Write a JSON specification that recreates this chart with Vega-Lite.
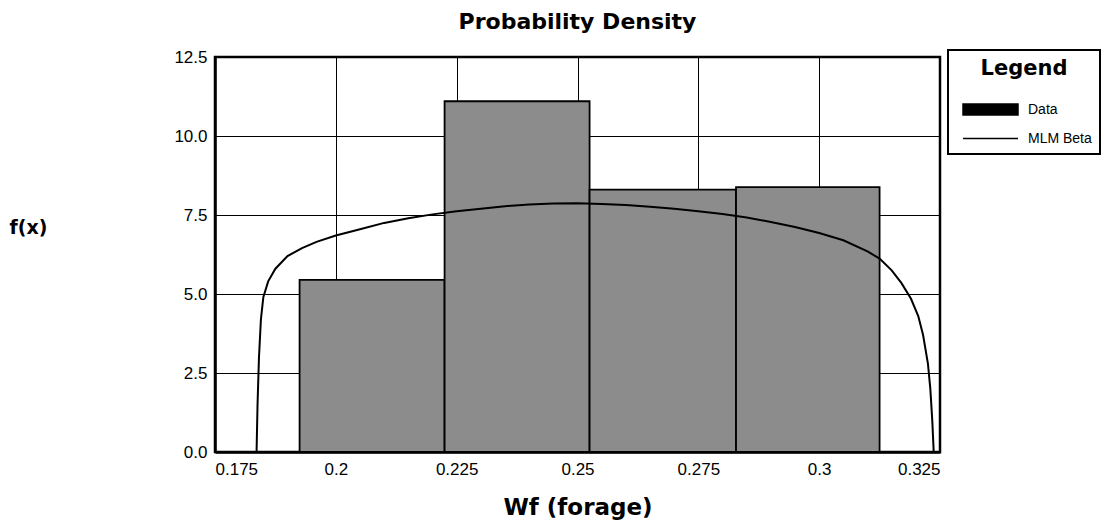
{
  "$schema": "https://vega.github.io/schema/vega-lite/v6.json",
  "autosize": {"type": "none"},
  "padding": {"left": 215, "top": 57, "right": 180, "bottom": 71},
  "width": 725,
  "height": 395,
  "background": "white",
  "config": {
    "font": "Liberation Sans",
    "view": {"stroke": "black", "strokeWidth": 2.5},
    "axis": {
      "grid": true,
      "gridColor": "black",
      "gridWidth": 1,
      "gridOpacity": 1,
      "domainColor": "black",
      "domainWidth": 2.5,
      "ticks": false,
      "labelFont": "Liberation Sans",
      "labelFontSize": 17,
      "labelColor": "black",
      "titleFont": "DejaVu Sans",
      "titleColor": "black",
      "titleFontWeight": "bold"
    }
  },
  "title": {
    "text": "Probability Density",
    "font": "DejaVu Sans",
    "fontSize": 22,
    "fontWeight": "bold",
    "color": "black",
    "anchor": "middle",
    "offset": 14
  },
  "datasets": {
    "bins": [
      {"lo": 0.1925, "hi": 0.2225, "density": 5.45},
      {"lo": 0.2225, "hi": 0.2525, "density": 11.1},
      {"lo": 0.2525, "hi": 0.2828, "density": 8.3},
      {"lo": 0.2828, "hi": 0.3125, "density": 8.38}
    ],
    "beta": [
      {"x": 0.1836, "fx": 0, "series": "MLM Beta"},
      {"x": 0.1838, "fx": 1.5, "series": "MLM Beta"},
      {"x": 0.1841, "fx": 3.0, "series": "MLM Beta"},
      {"x": 0.1845, "fx": 4.2, "series": "MLM Beta"},
      {"x": 0.185, "fx": 4.9, "series": "MLM Beta"},
      {"x": 0.186, "fx": 5.4, "series": "MLM Beta"},
      {"x": 0.1875, "fx": 5.8, "series": "MLM Beta"},
      {"x": 0.19, "fx": 6.2, "series": "MLM Beta"},
      {"x": 0.193, "fx": 6.45, "series": "MLM Beta"},
      {"x": 0.196, "fx": 6.65, "series": "MLM Beta"},
      {"x": 0.2, "fx": 6.85, "series": "MLM Beta"},
      {"x": 0.205, "fx": 7.05, "series": "MLM Beta"},
      {"x": 0.21, "fx": 7.25, "series": "MLM Beta"},
      {"x": 0.215, "fx": 7.4, "series": "MLM Beta"},
      {"x": 0.22, "fx": 7.52, "series": "MLM Beta"},
      {"x": 0.225, "fx": 7.62, "series": "MLM Beta"},
      {"x": 0.23, "fx": 7.7, "series": "MLM Beta"},
      {"x": 0.235, "fx": 7.78, "series": "MLM Beta"},
      {"x": 0.24, "fx": 7.83, "series": "MLM Beta"},
      {"x": 0.245, "fx": 7.86, "series": "MLM Beta"},
      {"x": 0.25, "fx": 7.87, "series": "MLM Beta"},
      {"x": 0.255, "fx": 7.85, "series": "MLM Beta"},
      {"x": 0.26, "fx": 7.82, "series": "MLM Beta"},
      {"x": 0.265, "fx": 7.76, "series": "MLM Beta"},
      {"x": 0.27, "fx": 7.7, "series": "MLM Beta"},
      {"x": 0.275, "fx": 7.62, "series": "MLM Beta"},
      {"x": 0.28, "fx": 7.53, "series": "MLM Beta"},
      {"x": 0.285, "fx": 7.42, "series": "MLM Beta"},
      {"x": 0.29, "fx": 7.28, "series": "MLM Beta"},
      {"x": 0.295, "fx": 7.12, "series": "MLM Beta"},
      {"x": 0.3, "fx": 6.93, "series": "MLM Beta"},
      {"x": 0.305, "fx": 6.7, "series": "MLM Beta"},
      {"x": 0.31, "fx": 6.35, "series": "MLM Beta"},
      {"x": 0.3125, "fx": 6.12, "series": "MLM Beta"},
      {"x": 0.315, "fx": 5.75, "series": "MLM Beta"},
      {"x": 0.317, "fx": 5.35, "series": "MLM Beta"},
      {"x": 0.319, "fx": 4.85, "series": "MLM Beta"},
      {"x": 0.3205, "fx": 4.3, "series": "MLM Beta"},
      {"x": 0.3215, "fx": 3.7, "series": "MLM Beta"},
      {"x": 0.3225, "fx": 2.8, "series": "MLM Beta"},
      {"x": 0.323, "fx": 2.0, "series": "MLM Beta"},
      {"x": 0.3234, "fx": 1.0, "series": "MLM Beta"},
      {"x": 0.3237, "fx": 0, "series": "MLM Beta"}
    ]
  },
  "layer": [
    {
      "data": {"name": "bins"},
      "mark": {"type": "rect", "fill": "#8c8c8c", "stroke": "black", "strokeWidth": 1.8},
      "encoding": {
        "x": {
          "field": "lo",
          "type": "quantitative",
          "scale": {"domain": [0.175, 0.325], "nice": false, "zero": false},
          "axis": {
            "values": [0.175, 0.2, 0.225, 0.25, 0.275, 0.3, 0.325],
            "labelExpr": "'' + datum.value",
            "labelPadding": 9,
            "title": "Wf (forage)",
            "titleFontSize": 23,
            "titleBaseline": "middle",
            "titleY": 55
          }
        },
        "x2": {"field": "hi"},
        "y": {
          "field": "density",
          "type": "quantitative",
          "scale": {"domain": [0, 12.5], "nice": false},
          "axis": {
            "values": [0, 2.5, 5, 7.5, 10, 12.5],
            "format": ".1f",
            "labelPadding": 8,
            "title": "f(x)",
            "titleFontSize": 19,
            "titleAngle": 0,
            "titleAlign": "center",
            "titleBaseline": "middle",
            "titleX": -187,
            "titleY": 170
          }
        },
        "y2": {"datum": 0}
      }
    },
    {
      "data": {"name": "beta"},
      "mark": {"type": "line", "color": "black", "strokeWidth": 2, "interpolate": "linear"},
      "encoding": {
        "x": {"field": "x", "type": "quantitative"},
        "y": {"field": "fx", "type": "quantitative"},
        "color": {
          "field": "series",
          "type": "nominal",
          "scale": {"domain": ["Data", "MLM Beta"], "range": ["black", "black"]},
          "legend": {
            "orient": "none",
            "legendX": 733,
            "legendY": -7,
            "title": "Legend",
            "titleFont": "DejaVu Sans",
            "titleFontSize": 21,
            "titleFontWeight": "bold",
            "titleColor": "black",
            "titleAnchor": "middle",
            "titlePadding": 22,
            "labelFont": "Liberation Sans",
            "labelFontSize": 14,
            "labelColor": "black",
            "labelOffset": 29,
            "labelExpr": "datum.label + '      '",
            "symbolOffset": 26,
            "rowPadding": 12,
            "padding": 8,
            "strokeColor": "black",
            "fillColor": "white",
            "symbolSize": 225,
            "encode": {
              "legend": {"update": {"strokeWidth": {"value": 2}}},
              "symbols": {
                "update": {
                  "shape": {"signal": "datum.value === 'Data' ? 'M-3.667,-0.733H3.667V0.733H-3.667Z' : 'M-3.667,0H3.667'"},
                  "fill": {"signal": "datum.value === 'Data' ? 'black' : 'transparent'"},
                  "stroke": {"value": "black"},
                  "strokeWidth": {"value": 1.5}
                }
              }
            }
          }
        }
      }
    }
  ]
}
